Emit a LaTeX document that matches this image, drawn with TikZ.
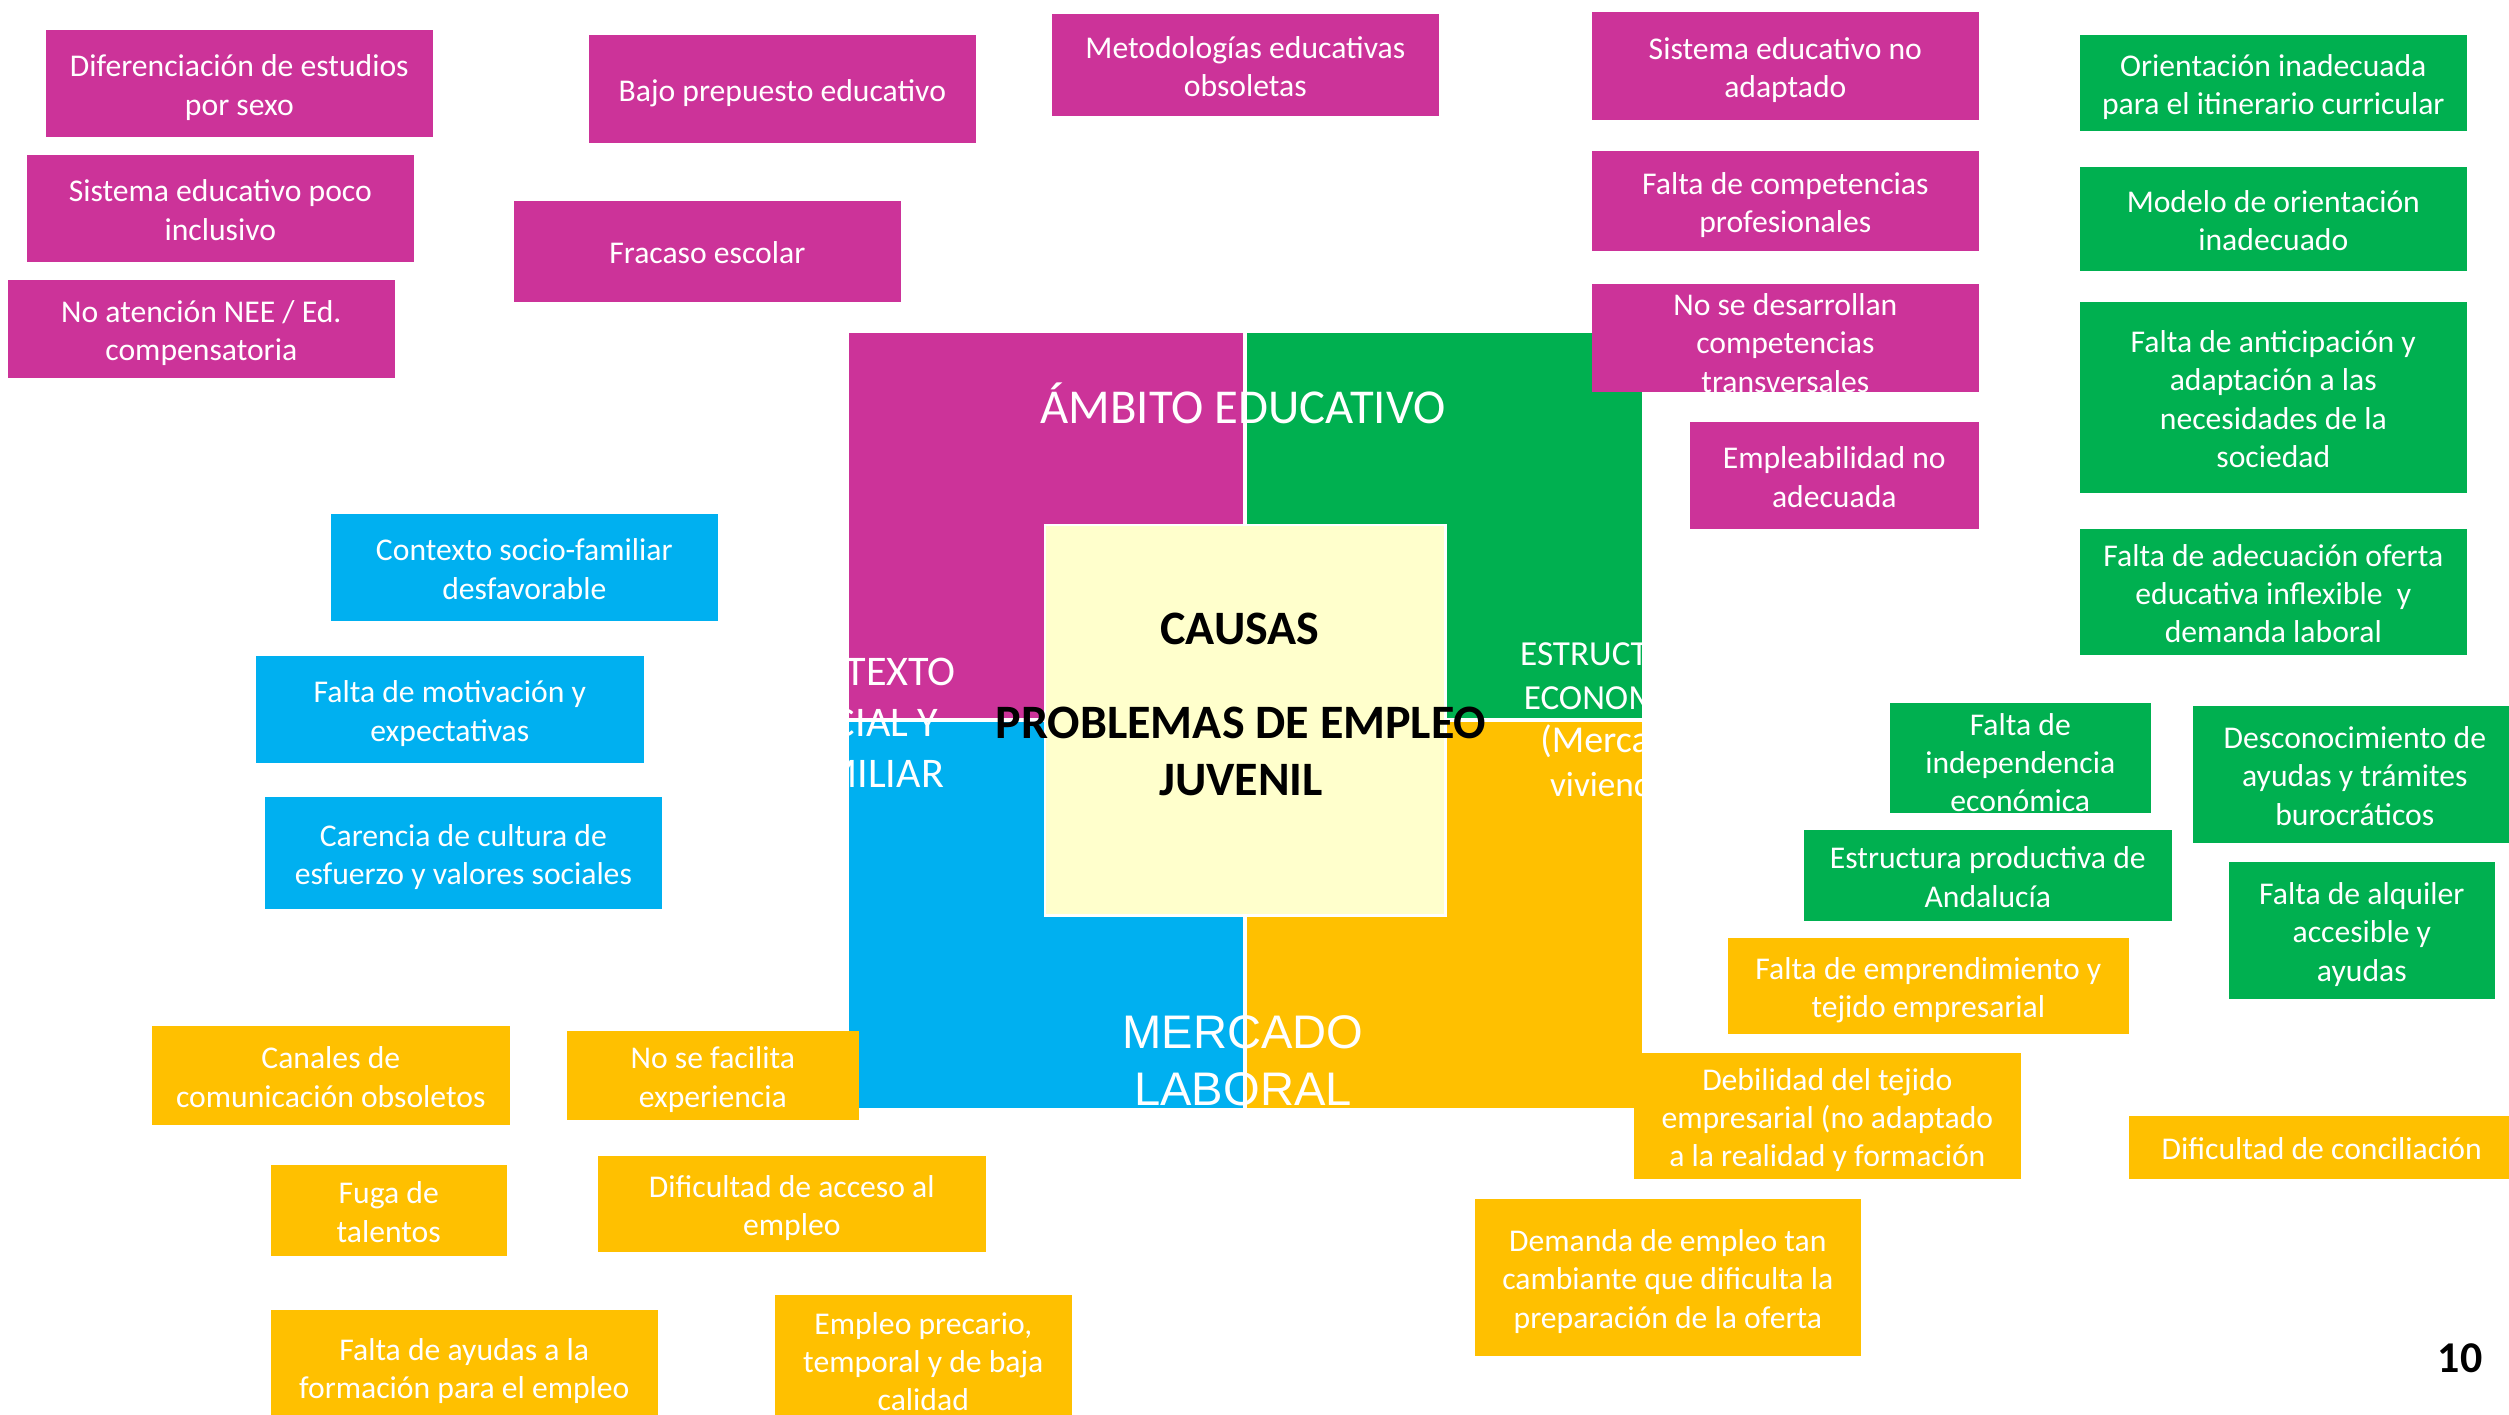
\documentclass[tikz,border=0pt]{standalone}
\usepackage{fontspec}
\setmainfont{Carlito}
\newfontfamily\arialfont{Liberation Sans}
\usepackage{tikz}
\usetikzlibrary{positioning}
\definecolor{edu}{RGB}{204,51,153}
\definecolor{eco}{RGB}{0,176,80}
\definecolor{soc}{RGB}{0,176,240}
\definecolor{lab}{RGB}{255,192,0}
\definecolor{centro}{RGB}{255,255,204}
\newcommand{\cajafont}{\fontsize{9}{10.9}\selectfont}
\newcommand{\abajo}{\rule[-0.2em]{0pt}{0pt}}

\begin{document}
\begin{tikzpicture}[
				x=0.01cm, y=-0.01cm,
				caja/.style={rectangle, anchor=north west, inner sep=0pt, text=white, align=flush center, font=\cajafont,
					execute at begin node={\rule{0pt}{1em}}, execute at end node={\abajo}},
				sin_pie/.style={execute at begin node={\let\abajo\relax}},
				tam/.style 2 args={minimum width=#1, text width=#1, minimum height=#2},
				educativo/.style={caja, fill=edu},
				economico/.style={caja, fill=eco},
				social/.style={caja, fill=soc},
				laboral/.style={caja, fill=lab},
				cuadrante/.style={rectangle, inner sep=0pt, draw=white, line width=0.6pt, minimum width=3.96cm, minimum height=3.87cm},
				titulo/.style={text=white, align=center, inner sep=0pt}]

			\clip (0,0) rectangle (2509,1414);

			\node[cuadrante, fill=edu, anchor=north west] (q_educativo) at (847,331) {};
			\node[cuadrante, fill=eco, right=0pt of q_educativo] (q_economico) {};
			\node[cuadrante, fill=soc, below=0pt of q_educativo] (q_social) {};
			\node[cuadrante, fill=lab, right=0pt of q_social] (q_laboral) {};

			\node[titulo, font=\fontsize{13.85}{16}\selectfont] (lbl_educativo) at (1243,403) {ÁMBITO EDUCATIVO};
			\node[titulo, font=\fontsize{12}{14.5}\selectfont] (lbl_social) at (862,723) {CONTEXTO\\SOCIAL Y\\FAMILIAR};
			\node[titulo, font=\fontsize{10}{12.5}\selectfont] (lbl_economico) at (1615,722) {ESTRUCTURA\\ECONOMICA\\\fontsize{10.8}{12.5}\selectfont(Mercado\\vivienda)};
			\node[titulo, font=\arialfont\fontsize{13.4}{16.2}\selectfont] (lbl_laboral) at (1243,1061) {MERCADO\\LABORAL};

			\node[rectangle, fill=centro, draw=white, line width=0.6pt, minimum width=4cm, minimum height=3.9cm] (causas) at (q_educativo.south east) {};
			\node[font=\bfseries\fontsize{13.65}{16.2}\selectfont, inner sep=0pt] (lbl_causas) at (1240,629) {CAUSAS};
			\node[font=\bfseries\fontsize{13.65}{16.2}\selectfont, align=center, inner sep=0pt] (lbl_problemas) at (1241,751) {PROBLEMAS DE EMPLEO\\JUVENIL};

			\node[educativo, tam={3.87cm}{1.07cm}] (dif_estudios) at (45,29) {Diferenciación de estudios\\por sexo};
			\node[educativo, tam={3.87cm}{1.07cm}] (sist_inclusivo) at (26,154) {Sistema educativo poco\\inclusivo};
			\node[educativo, tam={3.87cm}{0.98cm}] (no_atencion_nee) at (7,279) {No atención NEE / Ed.\\compensatoria};
			\node[educativo, tam={3.87cm}{1.08cm}] (bajo_presupuesto) at (588,34) {Bajo prepuesto educativo};
			\node[educativo, tam={3.87cm}{1.01cm}] (fracaso_escolar) at (513,200) {Fracaso escolar};
			\node[educativo, tam={3.87cm}{1.02cm}] (metodologias) at (1051,13) {Metodologías educativas\\obsoletas};
			\node[educativo, tam={3.87cm}{1.08cm}] (sist_no_adaptado) at (1591,11) {Sistema educativo no\\adaptado};
			\node[educativo, tam={3.87cm}{1.00cm}] (comp_profesionales) at (1591,150) {Falta de competencias\\profesionales};
			\node[educativo, tam={3.87cm}{1.08cm}, sin_pie] (comp_transversales) at (1591,283) {No se desarrollan\\competencias\\transversales};
			\node[educativo, tam={2.89cm}{1.07cm}] (empleabilidad) at (1689,421) {Empleabilidad no\\adecuada};

			\node[economico, tam={3.87cm}{0.96cm}] (orientacion_itinerario) at (2079,34) {Orientación inadecuada\\para el itinerario curricular};
			\node[economico, tam={3.87cm}{1.04cm}] (modelo_orientacion) at (2079,166) {Modelo de orientación\\inadecuado};
			\node[economico, tam={3.87cm}{1.91cm}] (falta_anticipacion) at (2079,301) {Falta de anticipación y\\adaptación a las\\necesidades de la\\sociedad};
			\node[economico, tam={3.87cm}{1.26cm}] (falta_adecuacion) at (2079,528) {Falta de adecuación oferta\\educativa inflexible~ y\\demanda laboral};
			\node[economico, tam={2.61cm}{1.10cm}, sin_pie] (independencia) at (1889,702) {Falta de\\independencia\\económica};
			\node[economico, tam={3.24cm}{1.37cm}] (desconocimiento) at (2192,705) {Desconocimiento de\\ayudas y trámites\\burocráticos};
			\node[economico, tam={3.68cm}{0.91cm}] (estructura_productiva) at (1803,829) {Estructura productiva de\\Andalucía};
			\node[economico, tam={2.66cm}{1.37cm}] (alquiler) at (2228,861) {Falta de alquiler\\accesible y\\ayudas};

			\node[social, tam={3.87cm}{1.07cm}] (contexto_desfavorable) at (330,513) {Contexto socio-familiar\\desfavorable};
			\node[social, tam={3.88cm}{1.07cm}] (motivacion) at (255,655) {Falta de motivación y\\expectativas};
			\node[social, tam={3.97cm}{1.12cm}] (carencia_cultura) at (264,796) {Carencia de cultura de\\esfuerzo y valores sociales};

			\node[laboral, tam={4.01cm}{0.96cm}] (emprendimiento) at (1727,937) {Falta de emprendimiento y\\tejido empresarial};
			\node[laboral, tam={3.87cm}{1.26cm}] (debilidad_tejido) at (1633,1052) {Debilidad del tejido\\empresarial (no adaptado\\a la realidad y formación};
			\node[laboral, tam={3.86cm}{0.63cm}] (conciliacion) at (2128,1115) {Dificultad de conciliación};
			\node[laboral, tam={3.86cm}{1.57cm}] (demanda_cambiante) at (1474,1198) {Demanda de empleo tan\\cambiante que dificulta la\\preparación de la oferta};
			\node[laboral, tam={3.58cm}{0.99cm}] (canales) at (151,1025) {Canales de\\comunicación obsoletos};
			\node[laboral, tam={2.92cm}{0.89cm}] (no_experiencia) at (566,1030) {No se facilita\\experiencia};
			\node[laboral, tam={2.36cm}{0.91cm}] (fuga_talentos) at (270,1164) {Fuga de\\talentos};
			\node[laboral, tam={3.88cm}{0.96cm}] (acceso_empleo) at (597,1155) {Dificultad de acceso al\\empleo};
			\node[laboral, tam={3.87cm}{1.14cm}] (ayudas_formacion) at (270,1309) {Falta de ayudas a la\\formación para el empleo};
			\node[laboral, tam={2.97cm}{1.30cm}] (empleo_precario) at (774,1294) {Empleo precario,\\temporal y de baja\\calidad};

			\node[font=\bfseries\fontsize{12.5}{15}\selectfont, inner sep=0pt] (num_pagina) at (2460,1358) {10};

		\end{tikzpicture}
\end{document}
